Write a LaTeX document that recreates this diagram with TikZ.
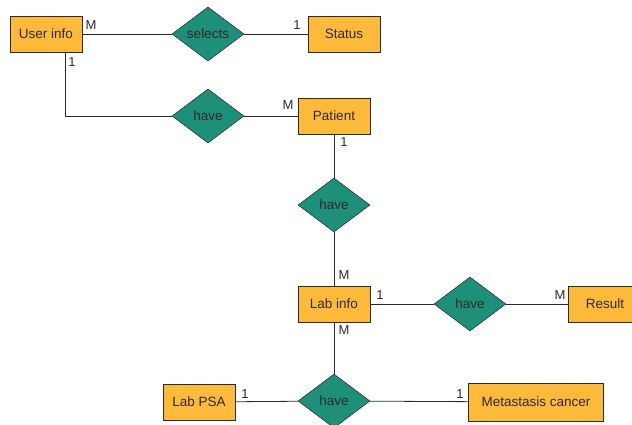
\documentclass[tikz,border=0pt]{standalone}
\usepackage{fontspec}
\setmainfont{Liberation Sans}
\usetikzlibrary{shapes.geometric}
\definecolor{entfill}{HTML}{FDB93A}
\definecolor{relfill}{HTML}{1E8F78}
\definecolor{inkc}{HTML}{2B2B2B}
\tikzset{
  entity/.style={draw=inkc, line width=0.8pt, fill=entfill, minimum width=72pt, minimum height=36pt, inner sep=0pt, text=inkc, font=\fontsize{13.5}{15}\selectfont},
  relation/.style={draw=inkc, line width=0.5pt, fill=relfill, diamond, aspect=1.33, minimum width=72pt, minimum height=54pt, inner sep=0pt, text=inkc, font=\fontsize{13.5}{15}\selectfont},
  link/.style={draw=inkc, line width=0.8pt},
  card/.style={text=inkc, font=\fontsize{13}{14}\selectfont, inner sep=0pt}
}
\begin{document}
\begin{tikzpicture}[x=1pt, y=-1pt]
\useasboundingbox (0,0) rectangle (632,425);
% entities
\node[entity] (user) at (46,34) {User info};
\node[entity] (status) at (344,34) {Status};
\node[entity] (patient) at (334,116) {Patient};
\node[entity] (lab) at (334,304) {Lab info};
\node[entity, minimum width=74pt] (result) at (605,304) {Result};
\node[entity] (psa) at (199,402) {Lab PSA};
\node[entity, minimum width=135pt, minimum height=38pt] (meta) at (536,402) {Metastasis cancer};
% relationships
\node[relation] (selects) at (208,34) {selects};
\node[relation] (have1) at (208,116) {have};
\node[relation] (have2) at (334,205) {have};
\node[relation] (have3) at (470,304) {have};
\node[relation] (have4) at (334,401) {have};
% connectors
\draw[link] (user) -- (selects) -- (status);
\draw[link] (user.south -| 65,0) |- (have1.west);
\draw[link] (have1) -- (patient);
\draw[link] (patient) -- (have2) -- (lab);
\draw[link] (lab) -- (have3) -- (result);
\draw[link] (lab) -- (have4);
\draw[link] (psa) -- (have4) -- (meta);
% cardinalities
\node[card] (c1) at (91,25) {M};
\node[card] (c2) at (297,25) {1};
\node[card] (c3) at (72,62) {1};
\node[card] (c4) at (288,105) {M};
\node[card] (c5) at (344,142) {1};
\node[card] (c6) at (344,275) {M};
\node[card] (c7) at (380,295) {1};
\node[card] (c8) at (560,295) {M};
\node[card] (c9) at (344,330) {M};
\node[card] (c10) at (245,394) {1};
\node[card] (c11) at (460,394) {1};
\end{tikzpicture}
\end{document}
